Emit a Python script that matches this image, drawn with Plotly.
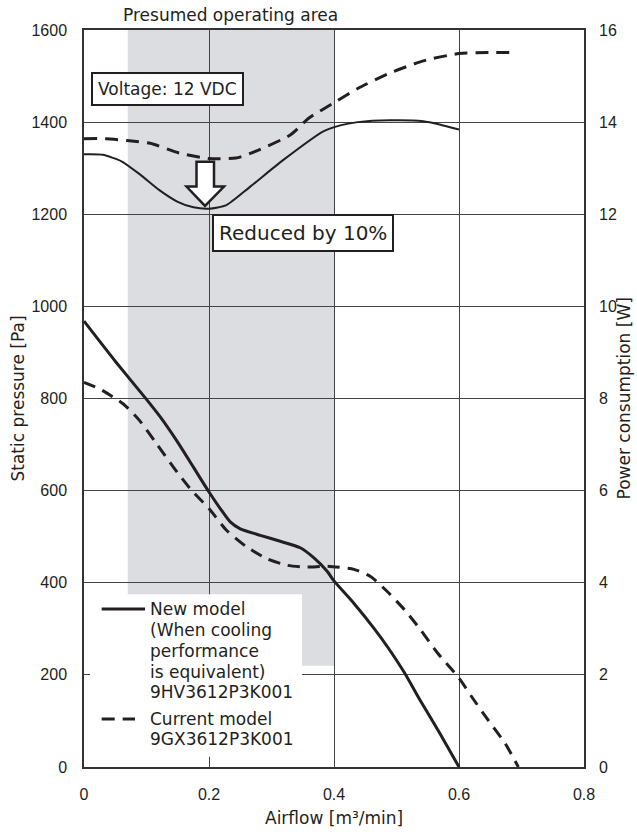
import plotly.graph_objects as go

# ---------------- data ----------------
pq_new_x = [0, 0.05, 0.1, 0.122, 0.148, 0.175, 0.2, 0.218, 0.234, 0.25, 0.282, 0.314,
            0.346, 0.367, 0.389, 0.4, 0.432, 0.464, 0.486, 0.513, 0.539, 0.566, 0.6]
pq_new_y = [968, 881, 798, 760, 709, 651, 597, 561, 532, 517, 503, 490,
            476, 455, 425, 404, 355, 301, 260, 204, 142, 81, 0]

pq_cur_x = [0, 0.026, 0.063, 0.089, 0.116, 0.143, 0.17, 0.2, 0.228, 0.26, 0.293, 0.325,
            0.357, 0.389, 0.432, 0.459, 0.486, 0.513, 0.539, 0.566, 0.6, 0.62, 0.647, 0.674, 0.695]
pq_cur_y = [835, 820, 788, 752, 702, 651, 604, 561, 514, 478, 452, 438,
            434, 436, 429, 413, 380, 341, 297, 247, 193, 153, 101, 51, 0]

pw_new_x = [0, 0.03, 0.06, 0.09, 0.12, 0.15, 0.175, 0.2, 0.228, 0.266, 0.319, 0.383, 0.41,
            0.438, 0.49, 0.543, 0.569, 0.6]
pw_new_y = [13.30, 13.29, 13.15, 12.86, 12.53, 12.27, 12.15, 12.12, 12.20, 12.60, 13.18, 13.80, 13.93,
            14.00, 14.04, 14.02, 13.95, 13.84]

pw_cur_x = [0, 0.035, 0.069, 0.106, 0.152, 0.2, 0.243, 0.266, 0.33, 0.36, 0.4, 0.438,
            0.49, 0.543, 0.6, 0.647, 0.692]
pw_cur_y = [13.64, 13.64, 13.60, 13.54, 13.33, 13.21, 13.22, 13.32, 13.72, 14.09, 14.42, 14.73,
            15.07, 15.33, 15.49, 15.51, 15.51]

operating_area_x = [0.07, 0.4]
operating_area_y_min = 220

x_ticks = [0, 0.2, 0.4, 0.6, 0.8]
x_tick_labels = ["0", "0.2", "0.4", "0.6", "0.8"]
pa_ticks = [0, 200, 400, 600, 800, 1000, 1200, 1400, 1600]
w_ticks = [0, 2, 4, 6, 8, 10, 12, 14, 16]

legend_new_lines = ["New model", "(When cooling", "performance", "is equivalent)", "9HV3612P3K001"]
legend_cur_lines = ["Current model", "9GX3612P3K001"]

# ---------------- styles ----------------
TXT = "DejaVu Sans"
TICKF = "Liberation Sans Narrow, Arial Narrow, Liberation Sans, Arial"
INK = "#231f20"
GRID = "#444444"

fig = go.Figure()

fig.add_trace(go.Scatter(x=pq_new_x, y=pq_new_y, mode="lines",
                         line=dict(color=INK, width=3, shape="spline", smoothing=0.6),
                         showlegend=False, hoverinfo="skip"))
fig.add_trace(go.Scatter(x=pq_cur_x, y=pq_cur_y, mode="lines",
                         line=dict(color=INK, width=3, dash="12px,8px", shape="spline", smoothing=0.6),
                         showlegend=False, hoverinfo="skip"))
fig.add_trace(go.Scatter(x=pw_new_x, y=pw_new_y, mode="lines", yaxis="y2",
                         line=dict(color=INK, width=2, shape="spline", smoothing=0.6),
                         showlegend=False, hoverinfo="skip"))
fig.add_trace(go.Scatter(x=pw_cur_x, y=pw_cur_y, mode="lines", yaxis="y2",
                         line=dict(color=INK, width=3, dash="13px,8px", shape="spline", smoothing=0.6),
                         showlegend=False, hoverinfo="skip"))

shapes = []
# presumed operating area
shapes.append(dict(type="rect", xref="x", yref="y", x0=operating_area_x[0], x1=operating_area_x[1],
                   y0=operating_area_y_min, y1=1600, fillcolor="#dcdde0", line=dict(width=0),
                   layer="below"))
# white legend background
shapes.append(dict(type="rect", xref="x", yref="y", x0=0.0096, x1=0.349, y0=22, y1=375,
                   fillcolor="white", line=dict(width=0), layer="between"))
# legend samples
shapes.append(dict(type="line", xref="x", yref="y", x0=0.0283, x1=0.0976, y0=343, y1=343,
                   line=dict(color=INK, width=3)))
shapes.append(dict(type="line", xref="x", yref="y", x0=0.0283, x1=0.0816, y0=104, y1=104,
                   line=dict(color=INK, width=3, dash="13px,8px")))
# hollow down arrow
arrow_pts = [(0.180, 1314), (0.208, 1314), (0.208, 1260), (0.224, 1260),
             (0.1936, 1218), (0.164, 1260), (0.180, 1260)]
path = "M " + " L ".join(f"{a},{b}" for a, b in arrow_pts) + " Z"
shapes.append(dict(type="path", xref="x", yref="y", path=path, fillcolor="white",
                   line=dict(color=INK, width=2.5), layer="above"))

annotations = []
annotations.append(dict(text="Presumed operating area", xref="x", yref="paper", x=0.235, y=1.0204,
                        xanchor="center", yanchor="middle", showarrow=False,
                        font=dict(family=TXT, size=17, color=INK)))
annotations.append(dict(text="Voltage: 12 VDC", xref="x", yref="y", x=0.1328, y=1471,
                        xanchor="center", yanchor="middle", showarrow=False,
                        bgcolor="white", bordercolor=INK, borderwidth=2, borderpad=5,
                        font=dict(family=TXT, size=17, color=INK)))
annotations.append(dict(text="Reduced by 10%", xref="x", yref="y", x=0.3496, y=1159,
                        xanchor="center", yanchor="middle", showarrow=False,
                        bgcolor="white", bordercolor=INK, borderwidth=2, borderpad=5,
                        font=dict(family=TXT, size=20, color=INK)))
legend_new_y = [343, 297.4, 252.5, 206.9, 162.2]
legend_cur_y = [104.2, 60.1]
for t, yy in zip(legend_new_lines + legend_cur_lines, legend_new_y + legend_cur_y):
    annotations.append(dict(text=t, xref="x", yref="y", x=0.1029, y=yy, xanchor="left",
                            yanchor="middle", showarrow=False,
                            font=dict(family=TXT, size=17, color=INK)))
# axis titles
annotations.append(dict(text="Static pressure [Pa]", xref="paper", yref="paper", x=-0.134, y=0.5,
                        textangle=-90, xanchor="center", yanchor="middle", showarrow=False,
                        font=dict(family=TXT, size=17, color=INK)))
annotations.append(dict(text="Power consumption [W]", xref="paper", yref="paper", x=1.078, y=0.5,
                        textangle=-90, xanchor="center", yanchor="middle", showarrow=False,
                        font=dict(family=TXT, size=17, color=INK)))
annotations.append(dict(text="Airflow [m³/min]", xref="paper", yref="paper", x=0.5, y=-0.0692,
                        xanchor="center", yanchor="middle", showarrow=False,
                        font=dict(family=TXT, size=17, color=INK)))

fig.update_layout(
    width=637, height=832,
    margin=dict(l=84, r=53, t=30, b=65),
    paper_bgcolor="white", plot_bgcolor="white",
    shapes=shapes, annotations=annotations,
    xaxis=dict(range=[0, 0.8], tickvals=x_ticks, ticktext=x_tick_labels,
               showgrid=True, gridcolor=GRID, gridwidth=1,
               showline=True, linecolor="#333333", linewidth=1.5, mirror=True,
               zeroline=False, ticks="", ticklabelstandoff=12,
               tickfont=dict(family=TICKF, size=16, color=INK), fixedrange=True),
    yaxis=dict(range=[0, 1600], tickvals=pa_ticks,
               showgrid=True, gridcolor=GRID, gridwidth=1,
               showline=True, linecolor="#333333", linewidth=1.5, mirror=True,
               zeroline=False, ticks="", ticklabelstandoff=12,
               tickfont=dict(family=TICKF, size=16, color=INK)),
    yaxis2=dict(range=[0, 16], tickvals=w_ticks, overlaying="y", side="right",
                showgrid=False, zeroline=False, showline=False, ticks="",
                ticklabelstandoff=14,
                tickfont=dict(family=TICKF, size=16, color=INK)),
)

fig.write_html("out.html", config={"displayModeBar": False},
               post_script="document.body.style.margin='0';document.body.style.overflow='hidden';")
